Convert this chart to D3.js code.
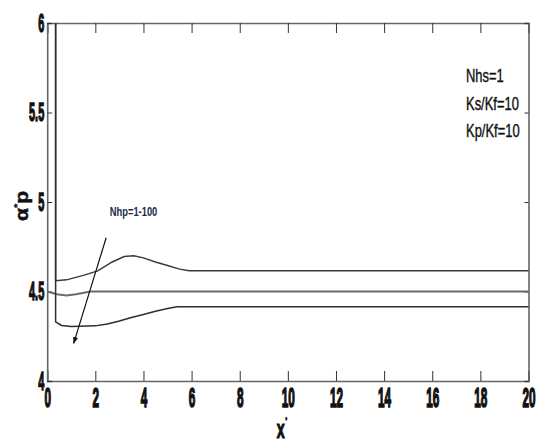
<!DOCTYPE html>
<html><head><meta charset="utf-8">
<script src="https://cdn.jsdelivr.net/npm/d3@7"></script>
<style>body{margin:0;background:#fff}svg{display:block}</style>
</head><body>
<svg id="c" width="537" height="445"></svg>
<script>
const xTicks = [0,2,4,6,8,10,12,14,16,18,20];
const yTicks = [4,4.5,5,5.5,6];
const yTickLabels = ["4","4.5","5","5.5","6"];
const topX = [0.35,0.35,0.8,1.5,2.1,2.7,3.2,3.6,4.0,4.5,5.0,5.5,5.9,20];
const topY = [6.0,4.56,4.565,4.59,4.615,4.665,4.695,4.700,4.688,4.665,4.645,4.625,4.616,4.616];
const midX = [0,0.4,0.8,1.2,1.8,20];
const midY = [4.50,4.485,4.478,4.485,4.5,4.5];
const botX = [0.35,0.35,0.6,1.0,2.0,2.5,3.0,3.5,4.0,4.5,5.0,5.4,20];
const botY = [6.0,4.33,4.31,4.305,4.308,4.318,4.335,4.355,4.372,4.39,4.405,4.415,4.415];
const arrowX = [2.45,1.1];
const arrowY = [4.80,4.21];
const legendLines = ["Nhs=1","Ks/Kf=10","Kp/Kf=10"];
const curveLabel = "Nhp=1-100";

const svg = d3.select("#c");
const L=47.2, R=528.5, T=23, B=381;
const x = d3.scaleLinear().domain([0,20]).range([L,R]);
const y = d3.scaleLinear().domain([4,6]).range([B,T]);

const defs = svg.append("defs");
defs.append("marker").attr("id","ah").attr("viewBox","0 0 10 10").attr("refX",9).attr("refY",5)
  .attr("markerWidth",6).attr("markerHeight",6).attr("orient","auto")
  .append("path").attr("d","M0,1.5 L10,5 L0,8.5 Z").attr("fill","#111");

const numFont = "'Liberation Sans', Arial, sans-serif";
const gxb = svg.append("g").attr("transform",`translate(0,${B})`)
  .call(d3.axisBottom(x).tickValues(xTicks).tickSize(-10).tickPadding(9).tickFormat(d3.format("d")));
const gxt = svg.append("g").attr("transform",`translate(0,${T})`)
  .call(d3.axisTop(x).tickValues(xTicks).tickSize(-10).tickFormat(""));
const gyl = svg.append("g").attr("transform",`translate(${L},0)`)
  .call(d3.axisLeft(y).tickValues(yTicks).tickSize(-5).tickPadding(3).tickFormat((d,i)=>yTickLabels[i]));
const gyr = svg.append("g").attr("transform",`translate(${R},0)`)
  .call(d3.axisRight(y).tickValues(yTicks).tickSize(-4).tickFormat(""));
[gxb,gxt,gyl,gyr].forEach(g=>{
  g.select(".domain").attr("stroke","#666").attr("stroke-width",1.6);
  g.selectAll(".tick line").attr("stroke","#333").attr("stroke-width",1);
});
gxb.selectAll(".tick text").attr("font-family",numFont).attr("font-weight","bold")
  .attr("font-size",28).attr("fill","#111").attr("stroke","#111").attr("stroke-width",1.6)
  .attr("dy","0.71em").attr("y",6)
  .attr("transform","scale(0.42,1)");
gyl.selectAll(".tick text").attr("font-family",numFont).attr("font-weight","bold")
  .attr("font-size",26).attr("fill","#111").attr("stroke","#111").attr("stroke-width",1.4)
  .attr("x",-3/0.42)
  .attr("transform","scale(0.42,1)");

const line = d3.line().x(d=>x(d[0])).y(d=>y(d[1]));
const zip=(a,b)=>a.map((v,i)=>[v,b[i]]);
svg.append("path").datum(zip(midX,midY)).attr("d",line).attr("fill","none").attr("stroke","#6a6a6a").attr("stroke-width",2);
svg.append("path").datum(zip(topX,topY)).attr("d",line).attr("fill","none").attr("stroke","#3a3a3a").attr("stroke-width",1.5);
svg.append("path").datum(zip(botX,botY)).attr("d",line).attr("fill","none").attr("stroke","#2e2e2e").attr("stroke-width",1.5);

svg.append("line").attr("x1",x(arrowX[0])).attr("y1",y(arrowY[0])).attr("x2",x(arrowX[1])).attr("y2",y(arrowY[1]))
  .attr("stroke","#111").attr("stroke-width",1.2).attr("marker-end","url(#ah)");

svg.append("text").attr("transform",`translate(${x(2.6)},${y(4.92)}) scale(0.72,1)`)
  .attr("font-family",numFont).attr("font-weight","bold").attr("font-size",13).attr("fill","#1c2a48").text(curveLabel);

legendLines.forEach((t,i)=>{
  svg.append("text").attr("transform",`translate(466,${82+i*27.5}) scale(0.7,1)`)
    .attr("font-family",numFont).attr("font-size",18.5).attr("fill","#111")
    .attr("stroke","#111").attr("stroke-width",0.4).text(t);
});

const xt = svg.append("text").attr("transform",`translate(282,438) scale(0.55,1)`)
  .attr("font-family",numFont).attr("font-weight","bold").attr("font-size",26).attr("fill","#111")
  .attr("stroke","#111").attr("stroke-width",1.2).attr("text-anchor","middle");
xt.append("tspan").text("x");
xt.append("tspan").attr("dy",-15).attr("dx",1).attr("font-size",9).attr("stroke-width",0.5).text("*");
const yt = svg.append("text").attr("transform",`translate(28,206) rotate(-90) scale(1,0.85)`)
  .attr("font-family",numFont).attr("font-weight","bold").attr("font-size",21).attr("fill","#111")
  .attr("stroke","#111").attr("stroke-width",0.6).attr("text-anchor","middle");
yt.append("tspan").text("α");
yt.append("tspan").attr("dy",-10).attr("font-size",11).attr("stroke-width",0.3).text("*");
yt.append("tspan").attr("dy",10).text("p");
</script>
</body></html>
